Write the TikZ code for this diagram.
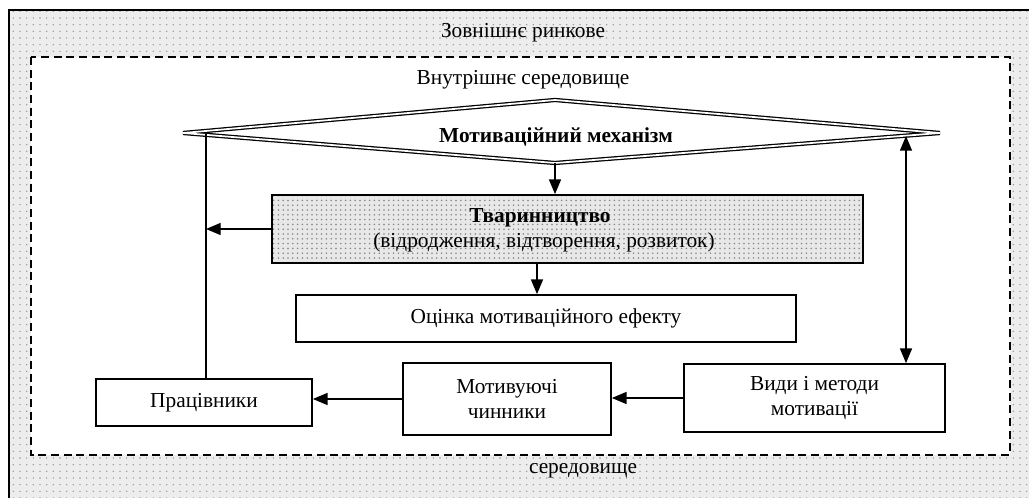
\documentclass[tikz,border=0pt]{standalone}
\usepackage{fontspec}
\setmainfont{Liberation Serif}
\usetikzlibrary{arrows.meta,patterns.meta}
\begin{document}
\begin{tikzpicture}[x=0.75pt,y=-0.75pt,
  font=\fontsize{16}{19}\selectfont,
  box/.style={draw, line width=1.3pt, fill=white, inner sep=0pt, align=center},
  txt/.style={inner sep=0pt, align=center},
  conn/.style={line width=1pt},
  tip/.tip={Triangle[length=11pt,width=9pt]},
  arr/.style={conn, -tip},
  darr/.style={conn, tip-tip},
  dotsfill/.style={preaction={fill=gray!14}, pattern={Dots[distance=5pt,radius=0.6pt]}, pattern color=gray!80}
]
\useasboundingbox (0,0) rectangle (1029,498);
\clip (0,0) rectangle (1029,498);
% outer environment
\path[dotsfill] (9,10) rectangle (1040,510);
\draw[line width=1.5pt] (9,510) -- (9,10) -- (1040,10);
% inner environment
\draw[fill=white, line width=1.2pt, dash pattern=on 6pt off 3.5pt] (31,57) rectangle (1010,455);
\node[txt] (outer1) at (523,33) {Зовнішнє ринкове};
\node[txt] (outer2) at (583,471) {середовище};
\node[txt] (inner) at (523,80) {Внутрішнє середовище};
% diamond
\coordinate (dl) at (183,133);
\coordinate (dt) at (555,100);
\coordinate (dr) at (940,133);
\coordinate (db) at (555,163);
\draw[line width=0.95pt, double=white, double distance=1.3pt, fill=white] (dl) -- (dt) -- (dr) -- (db) -- cycle;
\node[txt, font=\fontsize{16}{19}\selectfont\bfseries] (mech) at (556,137) {Мотиваційний механізм};
% boxes
\node[box, minimum width=443.25pt, minimum height=51pt, preaction={fill=gray!18}, pattern={Dots[distance=3.6pt,radius=0.65pt]}, pattern color=gray!95] (tvar) at (567.5,229) {};
\node[txt, font=\fontsize{16}{19}\selectfont\bfseries] (tvar1) at (540,218) {Тваринництво};
\node[txt] (tvar2) at (544,242) {(відродження, відтворення, розвиток)};
\node[box, minimum width=375pt, minimum height=35.25pt] (ocinka) at (546,318.5) {Оцінка мотиваційного ефекту};
\node[box, minimum width=162pt, minimum height=35.25pt] (prac) at (204,402.5) {Працівники};
\node[box, minimum width=156pt, minimum height=54pt] (motiv) at (507,399) {Мотивуючі\\чинники};
\node[box, minimum width=195.75pt, minimum height=51pt] (vydy) at (814.5,398) {Види і методи\\мотивації};
% connectors
\coordinate (L) at (206,134);
\coordinate (R) at (906,136);
\coordinate (T) at (537,263.5);
\draw[arr] (db) -- (db |- tvar.north);
\draw[conn] (L) -- (L |- prac.north);
\draw[arr] (tvar.west) -- (tvar.west -| L);
\draw[arr] (T) -- (T |- ocinka.north);
\draw[darr] (R) -- (R |- vydy.north);
\draw[arr] (vydy.west) -- (vydy.west -| motiv.east);
\draw[arr] (motiv.west) -- (motiv.west -| prac.east);
\end{tikzpicture}
\end{document}
